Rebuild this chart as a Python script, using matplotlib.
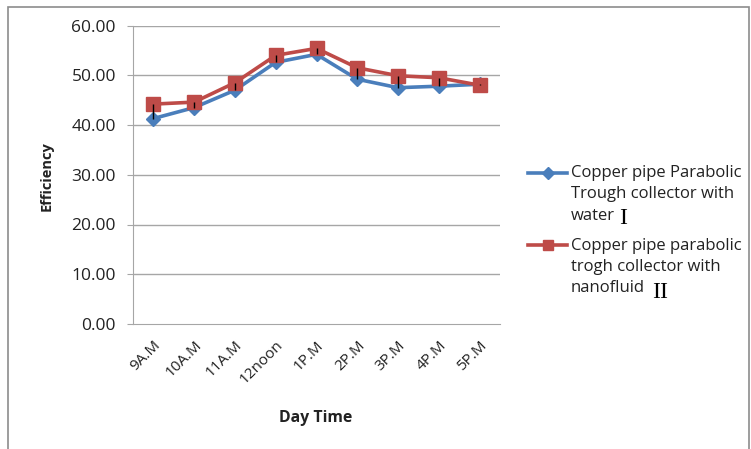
import matplotlib
matplotlib.use("Agg")
import matplotlib.pyplot as plt
from matplotlib.patches import Rectangle
from matplotlib.lines import Line2D
import numpy as np

times = ["9A.M", "10A.M", "11A.M", "12noon", "1P.M", "2P.M", "3P.M", "4P.M", "5P.M"]
water = [41.3, 43.5, 47.0, 52.6, 54.2, 49.2, 47.5, 47.8, 48.2]
nanofluid = [44.2, 44.6, 48.5, 54.0, 55.4, 51.5, 49.9, 49.5, 48.0]
yticks = [0, 10, 20, 30, 40, 50, 60]
series_labels = [["Copper pipe Parabolic", "Trough collector with", "water"],
                 ["Copper pipe parabolic", "trogh collector with", "nanofluid"]]
series_marks = ["I", "II"]

W, H = 751, 449
plt.rcParams["font.family"] = ["Open Sans", "DejaVu Sans"]
fig = plt.figure(figsize=(W / 100, H / 100), dpi=100)

# chart-area frame
fig.patches.append(Rectangle((8 / W, -0.01), 741 / W, 1 - 7 / H + 0.01,
                             transform=fig.transFigure, fill=False,
                             edgecolor="#8c8c8c", linewidth=1.2))

left, right = 133, 500
top, bottom = 25.5, 324
ax = fig.add_axes([left / W, 1 - bottom / H, (right - left) / W, (bottom - top) / H])

x = np.arange(len(times))
blue = "#4A7EBB"
red = "#BE4B48"

for y in yticks[1:]:
    ax.axhline(y, color="#a6a6a6", linewidth=1.0, zorder=0)

# high-low lines between the two series
ax.vlines(x, np.minimum(water, nanofluid), np.maximum(water, nanofluid),
          color="black", linewidth=1.0, zorder=4)

ax.plot(x, water, color=blue, linewidth=2.6, marker="D", markersize=7,
        markerfacecolor=blue, markeredgecolor=blue, zorder=3)
ax.plot(x, nanofluid, color=red, linewidth=2.6, marker="s", markersize=9.5,
        markerfacecolor=red, markeredgecolor=red, zorder=3)

ax.set_xlim(-0.5, len(times) - 0.5)
ax.set_ylim(0, 60)
ax.set_yticks(yticks)
ax.set_yticklabels([f"{v:.2f}" for v in yticks], fontsize=12.5, color="#222222")
ax.set_xticks(x)
ax.set_xticklabels(times, rotation=45, ha="right", rotation_mode="anchor",
                   fontsize=11, color="#222222")
ax.tick_params(axis="x", length=0, pad=10)
ax.tick_params(axis="y", length=4.3, color="#a6a6a6", pad=8)

for side in ["top", "right"]:
    ax.spines[side].set_visible(False)
ax.spines["left"].set_color("#a6a6a6")
ax.spines["bottom"].set_color("#a6a6a6")

fig.text(47 / W, 1 - 176 / H, "Efficiency", fontsize=10.5, fontweight="bold",
         rotation=90, ha="center", va="center", color="#222222")
fig.text(316 / W, 1 - 418 / H, "Day Time", fontsize=11.3, fontweight="bold",
         ha="center", va="center", color="#222222")

# legend entries, one text per line
line_step = 21.5
entries = [(blue, "D", 6, 172.5, (623, 219)), (red, "s", 7.5, 245, (660, 292))]
for (col, mk, ms, ly, mpos), lines, roman in zip(entries, series_labels, series_marks):
    fig.add_artist(Line2D([528 / W, 567 / W], [1 - ly / H, 1 - ly / H],
                          transform=fig.transFigure, color=col, linewidth=2.6))
    fig.add_artist(Line2D([547.5 / W], [1 - ly / H], transform=fig.transFigure,
                          color=col, marker=mk, markersize=ms, linestyle="none"))
    for i, txt in enumerate(lines):
        fig.text(571 / W, 1 - (ly + i * line_step + 4.5) / H, txt, fontsize=12,
                 ha="left", va="baseline", color="#222222")
    fig.text(mpos[0] / W, 1 - mpos[1] / H, roman, fontsize=17,
             family="Liberation Serif", ha="center", va="center")

fig.savefig("out.png", dpi=100)
